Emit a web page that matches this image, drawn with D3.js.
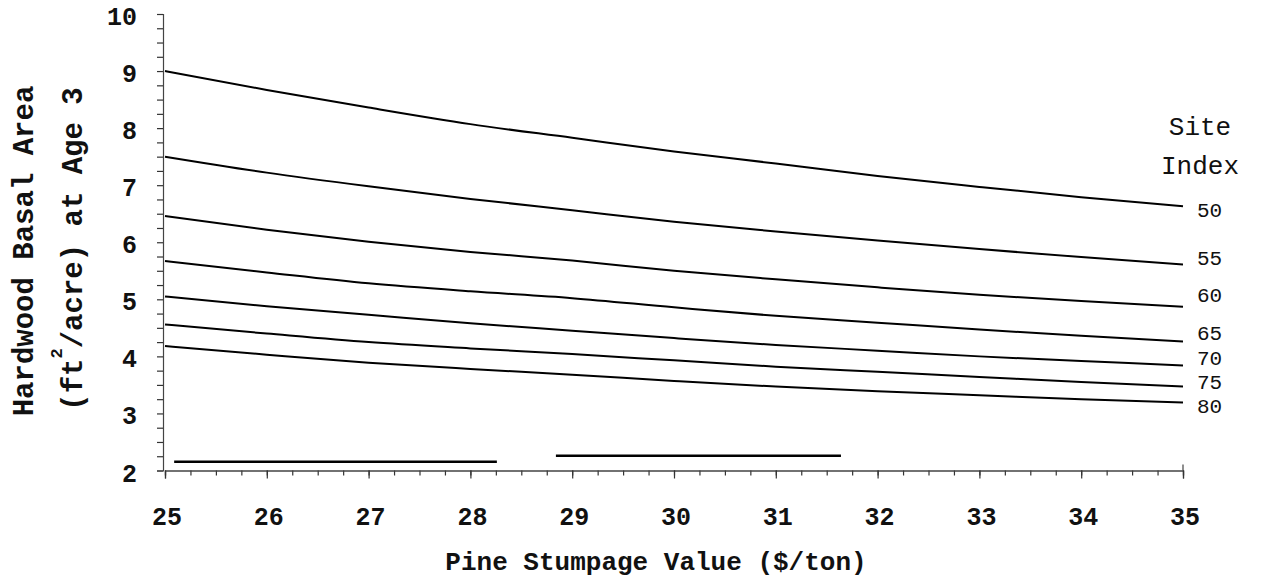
<!DOCTYPE html>
<html>
<head>
<meta charset="utf-8">
<script src="https://cdn.jsdelivr.net/npm/d3@7"></script>
<style>
  html, body { margin: 0; padding: 0; background: #fff; }
  svg { display: block; }
  text { font-family: "Liberation Mono", "Courier New", monospace; fill: #111; }
</style>
</head>
<body>
<svg id="chart" width="1261" height="583"></svg>
<script>
// ---- data ----
const stumpage = [25, 26, 27, 28, 29, 30, 31, 32, 33, 34, 35];
const siteIndex = ["50", "55", "60", "65", "70", "75", "80"];
const si50 = [9.00, 8.67, 8.36, 8.07, 7.83, 7.59, 7.38, 7.16, 6.97, 6.79, 6.63];
const si55 = [7.50, 7.22, 6.98, 6.76, 6.56, 6.36, 6.19, 6.03, 5.88, 5.74, 5.61];
const si60 = [6.46, 6.22, 6.01, 5.83, 5.68, 5.50, 5.35, 5.21, 5.08, 4.97, 4.87];
const si65 = [5.67, 5.47, 5.28, 5.14, 5.02, 4.86, 4.71, 4.59, 4.47, 4.36, 4.26];
const si70 = [5.05, 4.88, 4.73, 4.58, 4.45, 4.32, 4.20, 4.10, 4.00, 3.92, 3.84];
const si75 = [4.56, 4.40, 4.25, 4.14, 4.04, 3.93, 3.82, 3.73, 3.64, 3.55, 3.47];
const si80 = [4.18, 4.03, 3.89, 3.78, 3.68, 3.57, 3.47, 3.39, 3.32, 3.25, 3.19];
const seriesValues = [si50, si55, si60, si65, si70, si75, si80];
const xTickLabels = [25, 26, 27, 28, 29, 30, 31, 32, 33, 34, 35];
const yTickLabels = [2, 3, 4, 5, 6, 7, 8, 9, 10];
// stray horizontal rules present in the figure: [x0, x1, y]
const strayRuleA = [25.09, 28.26, 2.154];
const strayRuleB = [28.84, 31.64, 2.26];

// ---- layout ----
const svg = d3.select("#chart");
const x = d3.scaleLinear().domain([25, 35]).range([165, 1183]);
const y = d3.scaleLinear().domain([2, 10]).range([470.5, 14]);

// label vertical nudges (px) to keep end labels apart
const labelNudge = [1.7, -8.5, -13.7, -10.8, -9.5, -6.6, 1.4];

// axes
const xAxisMinor = d3.axisBottom(x).tickValues(d3.range(25, 35.001, 0.25)).tickSize(5).tickFormat("");
const xAxisMajor = d3.axisBottom(x).tickValues(xTickLabels).tickSize(8).tickFormat("");
const gx1 = svg.append("g").attr("transform", `translate(0,${y(2)})`).call(xAxisMinor);
const gx2 = svg.append("g").attr("transform", `translate(0,${y(2)})`).call(xAxisMajor);
[gx1, gx2].forEach(g => {
  g.select(".domain").attr("stroke", "#444").attr("stroke-width", 1.2);
  g.selectAll(".tick line").attr("stroke", "#333").attr("stroke-width", 1.2);
});
// small upturn at right end of x axis
svg.append("line").attr("x1", x(35)).attr("x2", x(35))
  .attr("y1", y(2)).attr("y2", y(2) - 6).attr("stroke", "#444").attr("stroke-width", 1.2);

const yAxis = d3.axisLeft(y).tickValues(d3.range(2, 10.001, 0.25)).tickSize(6).tickFormat("");
const gy = svg.append("g").attr("transform", `translate(${x(25) - 2},0)`).call(yAxis);
gy.select(".domain").attr("stroke", "#444").attr("stroke-width", 1.2);
gy.selectAll(".tick line").attr("stroke", "#333").attr("stroke-width", 1.2);

// tick labels
svg.append("g").selectAll("text").data(xTickLabels).join("text")
  .attr("x", d => x(d) + 2).attr("y", 525)
  .attr("text-anchor", "middle")
  .attr("font-size", 25).attr("font-weight", "bold")
  .text(d => d);
svg.append("g").selectAll("text").data(yTickLabels).join("text")
  .attr("x", 137).attr("y", d => y(d) + 11)
  .attr("text-anchor", "end")
  .attr("font-size", 25).attr("font-weight", "bold")
  .text(d => d);

// axis titles
svg.append("text")
  .attr("x", 656).attr("y", 570)
  .attr("text-anchor", "middle")
  .attr("font-size", 26).attr("font-weight", "bold")
  .text("Pine Stumpage Value ($/ton)");

svg.append("text")
  .attr("transform", "translate(33,251) rotate(-90)")
  .attr("text-anchor", "middle")
  .attr("font-size", 29).attr("font-weight", "bold")
  .text("Hardwood Basal Area");

const t2 = svg.append("text")
  .attr("transform", "translate(82,249) rotate(-90)")
  .attr("text-anchor", "middle")
  .attr("font-size", 29).attr("font-weight", "bold");
t2.append("tspan").text("(ft");
t2.append("tspan").attr("font-size", 17).attr("dy", -20).text("2");
t2.append("tspan").attr("dy", 20).text("/acre) at Age 3");

// lines
const line = d3.line()
  .x((d, i) => x(stumpage[i]))
  .y(d => y(d))
  .curve(d3.curveMonotoneX);

svg.append("g").selectAll("path").data(seriesValues).join("path")
  .attr("d", d => line(d))
  .attr("fill", "none")
  .attr("stroke", "#000")
  .attr("stroke-width", 2);

// stray rules
[strayRuleA, strayRuleB].forEach(r => {
  svg.append("line")
    .attr("x1", x(r[0])).attr("x2", x(r[1]))
    .attr("y1", y(r[2])).attr("y2", y(r[2]))
    .attr("stroke", "#000").attr("stroke-width", 2.5);
});

// legend title
svg.append("text").attr("x", 1200).attr("y", 135)
  .attr("text-anchor", "middle").attr("font-size", 26).text("Site");
svg.append("text").attr("x", 1200).attr("y", 174)
  .attr("text-anchor", "middle").attr("font-size", 26).text("Index");

// end labels
svg.append("g").selectAll("text").data(siteIndex).join("text")
  .attr("x", 1197)
  .attr("y", (d, i) => y(seriesValues[i][seriesValues[i].length - 1]) + labelNudge[i] + 9)
  .attr("font-size", 21)
  .text(d => d);
</script>
</body>
</html>
